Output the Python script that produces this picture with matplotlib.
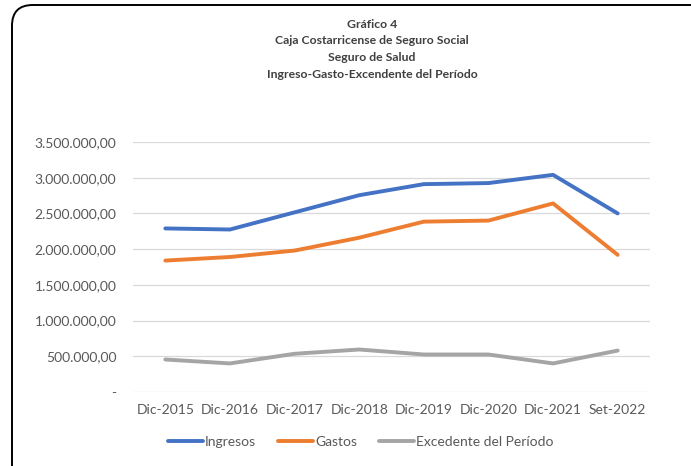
import matplotlib.pyplot as plt
from matplotlib.patches import FancyBboxPatch
from matplotlib.ticker import FuncFormatter

categorias = ['Dic-2015', 'Dic-2016', 'Dic-2017', 'Dic-2018', 'Dic-2019', 'Dic-2020', 'Dic-2021', 'Set-2022']
ingresos = [2290000, 2275000, 2515000, 2755000, 2910000, 2925000, 3040000, 2500000]
gastos = [1840000, 1890000, 1980000, 2160000, 2385000, 2400000, 2640000, 1920000]
excedente = [455000, 400000, 535000, 595000, 525000, 525000, 400000, 580000]

plt.rcParams['font.family'] = ['Lato', 'DejaVu Sans']

W, H = 691, 466
fig = plt.figure(figsize=(W / 100, H / 100), dpi=100)

# marco redondeado (se sale por la derecha y por abajo)
marco = FancyBboxPatch((12 / W, -20 / H), 720 / W, (H - 5 + 20) / H,
                       boxstyle="round,pad=0,rounding_size=0.03",
                       transform=fig.transFigure, fill=False,
                       edgecolor='black', linewidth=1.4, mutation_aspect=W / H)
fig.patches.append(marco)

ax = fig.add_axes([133 / W, 1 - 392 / H, (650 - 133) / W, (392 - 142) / H])

x = range(len(categorias))
ax.plot(x, ingresos, color='#4472C4', lw=2.8, label='Ingresos', solid_capstyle='round')
ax.plot(x, gastos, color='#ED7D31', lw=2.8, label='Gastos', solid_capstyle='round')
ax.plot(x, excedente, color='#A5A5A5', lw=2.8, label='Excedente del Período', solid_capstyle='round')

ax.set_ylim(0, 3500000)
ax.set_xlim(-0.5, len(categorias) - 0.5)
ax.set_yticks(range(0, 3500001, 500000))


def fmt(v, pos):
    if v == 0:
        return '-'
    return f'{v:,.2f}'.replace(',', 'X').replace('.', ',').replace('X', '.')


ax.yaxis.set_major_formatter(FuncFormatter(fmt))
ax.set_xticks(list(x))
ax.set_xticklabels(categorias)
ax.grid(axis='y', color='#D9D9D9', lw=0.9)
ax.set_axisbelow(True)
for s in ax.spines.values():
    s.set_visible(False)
ax.tick_params(axis='both', length=0, colors='#595959', labelsize=10)
ax.tick_params(axis='y', pad=12)
ax.tick_params(axis='x', pad=9)

titulo = ['Gráfico 4', 'Caja Costarricense de Seguro Social', 'Seguro de Salud',
          'Ingreso-Gasto-Excendente del Período']
for i, t in enumerate(titulo):
    fig.text(372 / W, 1 - (24 + i * 16.7) / H, t, ha='center', va='center',
             fontsize=8.8, fontweight='bold', color='#404040')

fig.legend(loc='center', bbox_to_anchor=(361 / W, 1 - 442 / H), ncol=3, frameon=False,
           fontsize=10, labelcolor='#595959', handlelength=2.5, handletextpad=0.15,
           columnspacing=1.6)

fig.savefig('out.png', dpi=100)
